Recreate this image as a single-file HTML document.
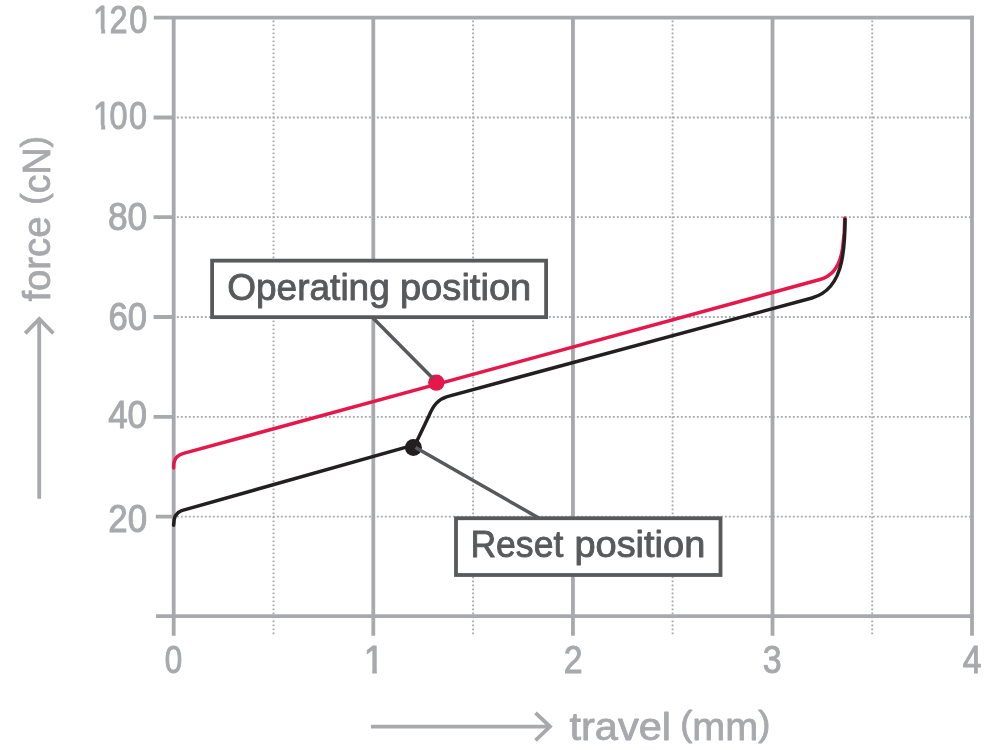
<!DOCTYPE html>
<html lang="en">
<head>
<meta charset="utf-8">
<title>Force / travel diagram</title>
<style>
html,body{margin:0;padding:0;background:#fff;}
body{width:1000px;height:750px;overflow:hidden;}
svg{display:block;}
text{font-family:"Liberation Sans",sans-serif;stroke-linejoin:round;}
.ax{fill:#a7a9ac;stroke:#a7a9ac;font-size:38px;stroke-width:1px;}
.ti{stroke-width:0.8px;}
.pr{font-size:35px;}
.lb{fill:#58595b;stroke:#58595b;font-size:37.2px;stroke-width:0.9px;}
</style>
</head>
<body>
<svg width="1000" height="750" viewBox="0 0 1000 750">
<defs><clipPath id="c-y120"><rect x="90" y="0" width="65" height="29"/><rect x="101.27" y="29" width="3.88" height="8"/><rect x="110.5" y="29" width="45" height="16"/></clipPath><clipPath id="c-y100"><rect x="90" y="95" width="65" height="30"/><rect x="101.27" y="125" width="3.88" height="8"/><rect x="112.6" y="125" width="45" height="16"/></clipPath><clipPath id="c-x1"><rect x="355" y="640" width="40" height="29"/><rect x="372.32" y="669" width="4.43" height="8"/></clipPath></defs>
<rect width="1000" height="750" fill="#ffffff"/>

<!-- dotted minor grid -->
<g stroke="#a7a9ac" stroke-width="1.9" stroke-dasharray="1.9 2.1" fill="none">
  <path d="M273.5 20.45V636 M473.1 20.45V636 M672.6 20.45V636 M872.2 20.45V636"/>
  <path d="M176.89 117.45H970 M176.89 217.15H970 M176.89 317H970 M176.89 416.85H970 M176.89 516.6H970"/>
</g>

<!-- solid grid and axes -->
<g stroke="#a7a9ac" stroke-width="3.8" fill="none">
  <path d="M153.8 17.7H973.9"/>
  <path d="M156 616.2H973.9"/>
  <path d="M173.7 17.7V635.7 M373.3 17.7V635.7 M572.95 17.7V635.7 M772.5 17.7V635.7 M972 15.8V635.7"/>
  <path d="M153.6 117.5H173.7 M153.6 217.15H173.7 M153.6 317H173.7 M153.6 416.85H173.7 M155.8 516.7H173.7"/>
</g>

<!-- y axis numbers -->
<text class="ax" x="93.05" y="33.00" textLength="54.18" lengthAdjust="spacingAndGlyphs" dx="0 -2 2" clip-path="url(#c-y120)">120</text>
<text class="ax" x="93.08" y="129.00" textLength="54.04" lengthAdjust="spacingAndGlyphs" dx="0 -2 2" clip-path="url(#c-y100)">100</text>
<text class="ax" x="107.91" y="230.00" textLength="39.39" lengthAdjust="spacingAndGlyphs">80</text>
<text class="ax" x="108.59" y="330.00" textLength="38.57" lengthAdjust="spacingAndGlyphs">60</text>
<text class="ax" x="108.15" y="428.00" textLength="38.96" lengthAdjust="spacingAndGlyphs">40</text>
<text class="ax" x="108.28" y="532.00" textLength="38.81" lengthAdjust="spacingAndGlyphs">20</text>
<!-- x axis numbers -->
<text class="ax" x="164.64" y="673.00" textLength="17.47" lengthAdjust="spacingAndGlyphs">0</text>
<text class="ax" x="363.69" y="673.00" textLength="20.27" lengthAdjust="spacingAndGlyphs" clip-path="url(#c-x1)">1</text>
<text class="ax" x="563.70" y="673.00" textLength="18.82" lengthAdjust="spacingAndGlyphs">2</text>
<text class="ax" x="762.72" y="673.00" textLength="18.85" lengthAdjust="spacingAndGlyphs">3</text>
<text class="ax" x="962.65" y="673.00" textLength="18.84" lengthAdjust="spacingAndGlyphs">4</text>

<!-- axis titles with arrows -->
<g stroke="#a7a9ac" stroke-width="3.8" fill="none">
  <path d="M39.2 498.8V319"/>
  <path d="M25.2 333.4L39.3 318.9L53.4 333.4"/>
  <path d="M371 726.6H550"/>
  <path d="M535.5 712.8L550 726.6L535.5 740.4"/>
</g>
<text class="ax ti" transform="translate(50.00 303.00) rotate(-90)"><tspan x="1.45" y="0.00" textLength="84.96" lengthAdjust="spacingAndGlyphs">force</tspan> <tspan x="98.20" y="0.00" textLength="68.69" lengthAdjust="spacingAndGlyphs"><tspan class="pr" dy="-4">(</tspan><tspan dy="4">cN</tspan><tspan class="pr" dy="-4">)</tspan></tspan></text>
<text class="ax ti"><tspan x="569.46" y="740.00" textLength="101.51" lengthAdjust="spacingAndGlyphs">travel</tspan> <tspan x="680.22" y="740.00" textLength="90.11" lengthAdjust="spacingAndGlyphs"><tspan class="pr" dy="-4">(</tspan><tspan dy="4">mm</tspan><tspan class="pr" dy="-4">)</tspan></tspan></text>

<!-- curves -->
<g fill="none" stroke-width="3.5" stroke-linecap="round" stroke-linejoin="round">
  <path stroke="#e5174b" d="M173.6 468 C173.6 459 176.5 455.4 183.5 453.4 L820 279.55 C832 276.2 840 267 842.6 248 C844 238 844.8 228 844.8 218"/>
  <path stroke="#231f20" d="M173.6 525.2 C173.6 516.5 176 512.4 181.6 510.6 L415.25 444.6 L428.5 416.8 C433.5 404.5 438.5 399.3 447.2 396.6 L812 298 C828 293.4 837.6 280 841.5 262 C844 250 845 236 845.1 219.5"/>
</g>

<!-- markers and leader lines -->
<circle cx="436.3" cy="382.6" r="8.2" fill="#e5174b"/>
<circle cx="413.4" cy="447.4" r="8.5" fill="#231f20"/>
<g stroke="#58595b" stroke-width="3.5" fill="none">
  <path d="M373 318L433 378.6"/>
  <path d="M415.5 447.6L539.2 518.2"/>
</g>

<!-- label boxes -->
<g stroke="#58595b" stroke-width="3.8" fill="#ffffff">
  <rect x="212.1" y="260.65" width="334" height="56.5"/>
  <rect x="456" y="518.25" width="264.5" height="56.75"/>
</g>
<text class="lb"><tspan x="227.23" y="299.50" textLength="162.60" lengthAdjust="spacingAndGlyphs">Operating</tspan> <tspan x="399.92" y="299.50" textLength="131.42" lengthAdjust="spacingAndGlyphs">position</tspan></text>
<text class="lb"><tspan x="470.48" y="557.30" textLength="92.79" lengthAdjust="spacingAndGlyphs">Reset</tspan> <tspan x="574.41" y="557.30" textLength="130.84" lengthAdjust="spacingAndGlyphs">position</tspan></text>
</svg>
</body>
</html>
